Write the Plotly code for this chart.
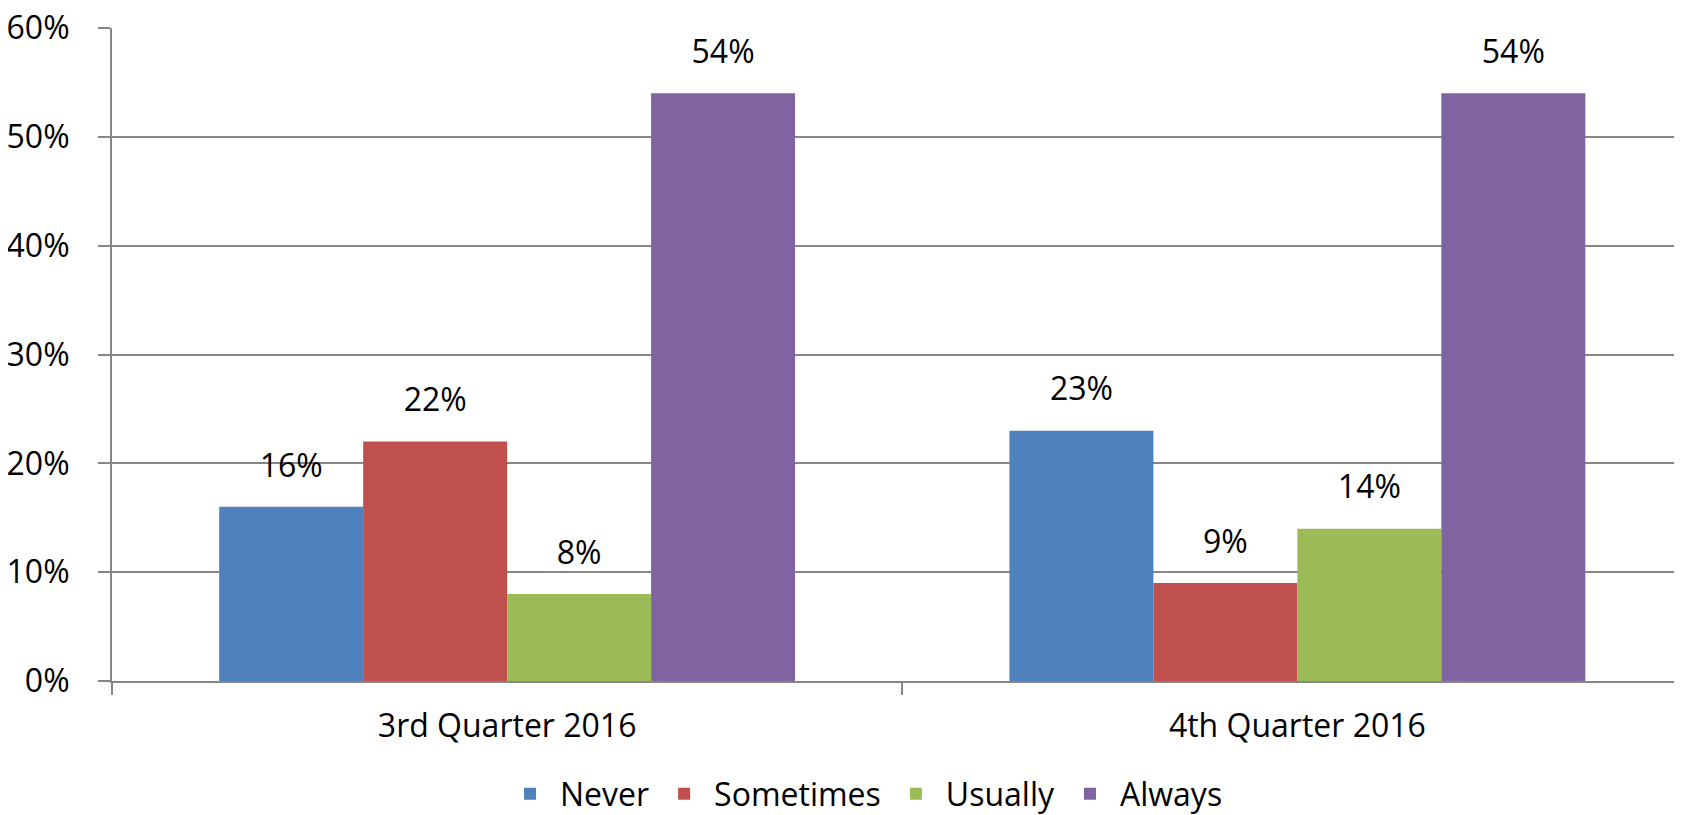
import plotly.graph_objects as go

categories = ["3rd Quarter 2016", "4th Quarter 2016"]
series_names = ["Never", "Sometimes", "Usually", "Always"]
never = [0.16, 0.23]
sometimes = [0.22, 0.09]
usually = [0.08, 0.14]
always = [0.54, 0.54]
y_ticks = [0, 0.1, 0.2, 0.3, 0.4, 0.5, 0.6]

colors = ["#4F81BD", "#C0504D", "#9BBB59", "#8064A2"]
FONT = "Open Sans"
FS = 32
GAP = 0.2713
W, H = 1674, 807  # page body has an 8px margin

fig = go.Figure()
for name, vals, col in zip(series_names, [never, sometimes, usually, always], colors):
    fig.add_trace(go.Bar(
        x=categories, y=vals, name=name, offsetgroup=name,
        marker=dict(color=col, line=dict(width=0)),
    ))
for name, vals in zip(series_names, [never, sometimes, usually, always]):
    fig.add_trace(go.Scatter(
        x=categories, y=vals, offsetgroup=name, mode="markers+text",
        text=[f"{v:.0%}" for v in vals], textposition="top center",
        textfont=dict(family=FONT, size=FS, color="black"),
        marker=dict(size=34, opacity=0), showlegend=False, hoverinfo="skip",
        cliponaxis=False,
    ))

fig.update_layout(
    width=W, height=H,
    margin=dict(l=104, r=0, t=20, b=134, autoexpand=False),
    paper_bgcolor="white", plot_bgcolor="white",
    barmode="group", bargap=GAP, bargroupgap=0,
    scattermode="group", scattergap=GAP,
    font=dict(family=FONT, size=FS, color="black"),
    showlegend=True,
    legend=dict(orientation="h", x=0.479, xanchor="center",
                yref="container", y=1 - 786 / H, yanchor="middle",
                font=dict(family=FONT, size=FS, color="black"), itemwidth=50,
                tracegroupgap=0),
)
fig.update_xaxes(
    range=[-0.5, 1.4867], showgrid=False,
    showline=True, linecolor="#868686", linewidth=2,
    ticks="outside", tickson="boundaries", ticklen=12, tickcolor="#868686", tickwidth=2,
    tickfont=dict(family=FONT, size=FS, color="black"), ticklabelstandoff=16,
    automargin=False,
)
fig.update_yaxes(
    range=[0, 0.6], tickvals=y_ticks, tickformat=".0%",
    showgrid=True, gridcolor="#868686", gridwidth=2,
    showline=True, linecolor="#868686", linewidth=2,
    ticks="outside", ticklen=12, tickcolor="#868686", tickwidth=2,
    tickfont=dict(family=FONT, size=FS, color="black"), ticklabelstandoff=22,
    ticklabeloverflow="allow",
    zeroline=False, automargin=False,
)

fig.write_html("out.html")
